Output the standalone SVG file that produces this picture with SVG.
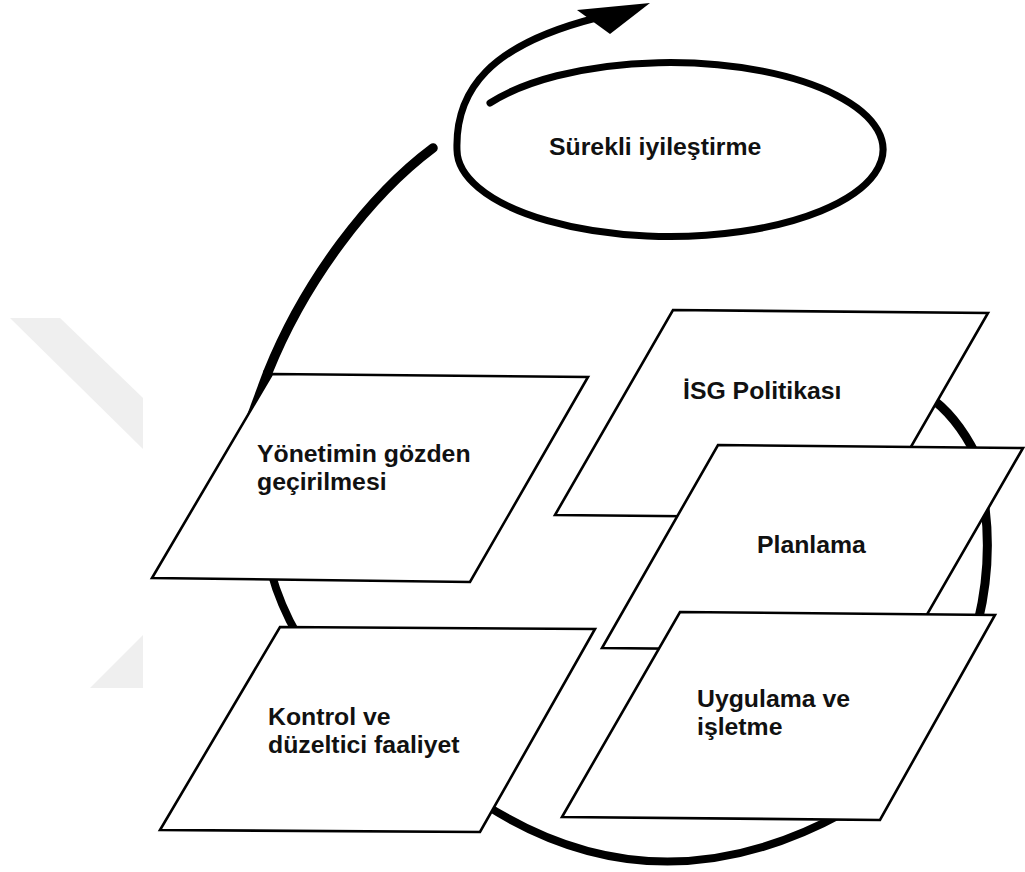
<svg xmlns="http://www.w3.org/2000/svg" width="1025" height="872" viewBox="0 0 1025 872">
<style>
.box{fill:#fff;stroke:#000;stroke-width:2.6;stroke-linejoin:miter}
.lbl{font-family:"Liberation Sans",Arial,sans-serif;font-weight:bold;font-size:24.8px;fill:#111}
.arc{fill:none;stroke:#000;stroke-linecap:round}
.wm{fill:#efefef}
</style>
<g id="watermark">
<polygon class="wm" points="10,318 60,318 143,398 143,449"/>
<polygon class="wm" points="90,688 143,688 143,635"/>
</g>
<g id="connectors">
<path class="arc" d="M490,103 A213,87 0 1 1 457,150 C455,90 490,45 596,18" stroke-width="7"/>
<polygon points="577,10 650,3 610,34" fill="#000"/>
<path class="arc" d="M433,148 C370,195 305,280 268,372" stroke-width="9.5"/>
<polygon points="263.6,370.2 272.4,373.8 247,415" fill="#000"/>
<path class="arc" d="M271,572 Q280,605 298,636" stroke-width="8" stroke-linecap="butt"/>
<path class="arc" d="M484,804 Q657,915 845,812" stroke-width="8" stroke-linecap="butt"/>
<path class="arc" d="M928,396 Q956,415 976,455" stroke-width="9" stroke-linecap="butt"/>
<path class="arc" d="M984,500 Q993,560 978,622" stroke-width="9" stroke-linecap="butt"/>
</g>
<g id="surekli">
<text class="lbl" x="549" y="155">Sürekli iyileştirme</text>
</g>
<g id="yonetim">
<polygon class="box" points="272,374 588,377 470,582 152,578"/>
<text class="lbl" x="257" y="462">Yönetimin gözden</text>
<text class="lbl" x="257" y="490">geçirilmesi</text>
</g>
<g id="kontrol">
<polygon class="box" points="280,627 595,629 480,832 160,830"/>
<text class="lbl" x="268" y="725">Kontrol ve</text>
<text class="lbl" x="268" y="753">düzeltici faaliyet</text>
</g>
<g id="isg">
<polygon class="box" points="673,310 988,313 870,518 555,515"/>
<text class="lbl" x="683" y="399">İSG Politikası</text>
</g>
<g id="planlama">
<polygon class="box" points="718,445 1023,448 906,651 602,648"/>
<text class="lbl" x="757" y="553">Planlama</text>
</g>
<g id="uygulama">
<polygon class="box" points="680,612 995,615 880,820 562,817"/>
<text class="lbl" x="697" y="707">Uygulama ve</text>
<text class="lbl" x="697" y="735">işletme</text>
</g>
</svg>
